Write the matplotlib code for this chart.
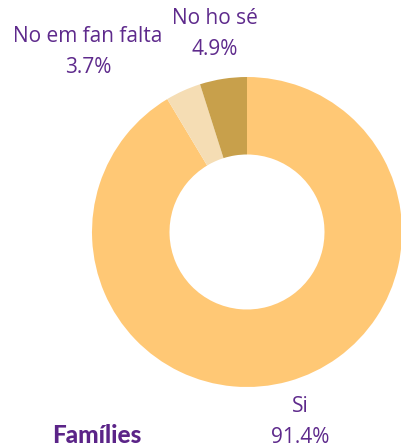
import matplotlib
matplotlib.use("Agg")
import matplotlib.pyplot as plt

categories = ["Si", "No em fan falta", "No ho sé"]
values = [91.4, 3.7, 4.9]
colors = ["#FFC875", "#F5DDB4", "#C8A04B"]
title = "Famílies"

W, H = 401, 448
fig = plt.figure(figsize=(W / 100, H / 100), dpi=100)

# donut placement in pixels
cx, cy, r = 247, 232, 155
ax = fig.add_axes([(cx - r) / W, (H - cy - r) / H, 2 * r / W, 2 * r / H])
ax.pie(values, colors=colors, startangle=90, counterclock=False, radius=1,
       wedgeprops=dict(width=0.5, edgecolor="none"))
ax.set_xlim(-1, 1)
ax.set_ylim(-1, 1)
ax.set_aspect("equal")
ax.axis("off")
for p in ax.patches:
    p.set_clip_on(False)

purple = "#5E2A8C"
label_pos = {"Si": (300, 422), "No em fan falta": (88, 52), "No ho sé": (215, 34)}
for cat, val in zip(categories, values):
    x, y = label_pos[cat]
    fig.text(x / W, 1 - y / H, f"{cat}\n{val:.1f}%", ha="center", va="center",
             fontsize=15, color=purple, family="Open Sans", linespacing=1.66)

fig.text(97 / W, 1 - 435 / H, title, ha="center", va="center", fontsize=17.5,
         color="#5B2488", family="Lato", fontweight="black")

fig.savefig("out.png", dpi=100)
